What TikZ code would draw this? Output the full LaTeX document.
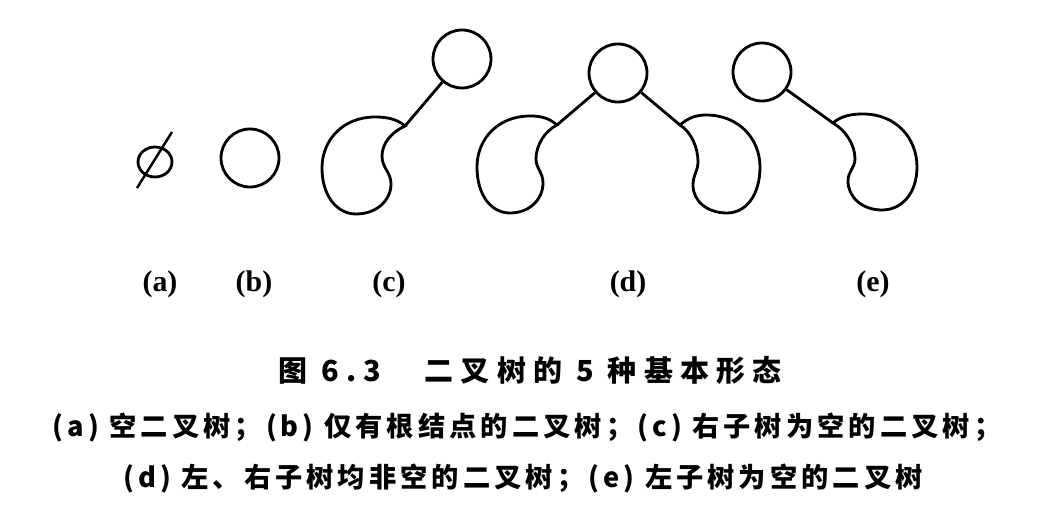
\documentclass[tikz,border=0pt]{standalone}
\usepackage{fontspec}
\newfontfamily\labfont{Liberation Serif}
\newfontfamily\capfont[LetterSpace=25]{Noto Sans CJK SC}
\newfontfamily\notefont[LetterSpace=15]{Noto Sans CJK SC}
\begin{document}
\begin{tikzpicture}[x=0.02cm,y=-0.02cm,
	tree/.style={line width=1.6pt},
	knot/.style={tree,draw,circle,minimum size=1.16cm,inner sep=0pt},
	tag/.style={font=\labfont\bfseries\fontsize{17}{20}\selectfont},
	headline/.style={font=\capfont\bfseries\fontsize{16.5}{20}\selectfont},
	note/.style={font=\notefont\bfseries\fontsize{15.5}{18}\selectfont}]
\useasboundingbox (0,0) rectangle (1063,526);
%tree a
\draw[tree] (155,162) ellipse [x radius=0.34cm, y radius=0.3cm];
\draw[line width=1.4pt] (137,188) -- (172,132);
%tree b
\node[knot] (b-root) at (250,158) {};
%tree c
\node[knot] (c-root) at (462,59) {};
\coordinate (c-left) at (405,126);
\begin{scope}[shift={(405,126)}]
\draw[tree] (0,0) .. controls (-8,-7) and (-18,-9) .. (-30,-9)
	.. controls (-62,-9) and (-83,14) .. (-83,42)
	.. controls (-83,70) and (-68,88) .. (-49,88)
	.. controls (-28,88) and (-14,74) .. (-14,58)
	.. controls (-14,46) and (-23,42) .. (-23,30)
	.. controls (-23,17) and (-13,6) .. cycle;
\end{scope}
\draw[tree] (c-root) -- (c-left);
%tree d
\node[knot] (d-root) at (618,73) {};
\coordinate (d-left) at (557,125);
\coordinate (d-right) at (680,125);
\begin{scope}[shift={(557,125)}]
\draw[tree] (0,0) .. controls (-8,-7) and (-16,-9) .. (-27,-9)
	.. controls (-59,-9) and (-80,14) .. (-80,42)
	.. controls (-80,70) and (-66,88) .. (-47,88)
	.. controls (-27,88) and (-14,74) .. (-14,58)
	.. controls (-14,47) and (-21,44) .. (-21,34)
	.. controls (-21,20) and (-12,6) .. cycle;
\end{scope}
\begin{scope}[shift={(680,125)},xscale=-1]
\draw[tree] (0,0) .. controls (-8,-7) and (-16,-10) .. (-26,-10)
	.. controls (-59,-10) and (-80,14) .. (-80,42)
	.. controls (-80,70) and (-66,88) .. (-47,88)
	.. controls (-27,88) and (-13,76) .. (-13,60)
	.. controls (-13,50) and (-18,46) .. (-18,37)
	.. controls (-18,22) and (-11,7) .. cycle;
\end{scope}
\draw[tree] (d-root) -- (d-left);
\draw[tree] (d-root) -- (d-right);
%tree e
\node[knot] (e-root) at (762,72) {};
\coordinate (e-right) at (833,123);
\begin{scope}[shift={(833,123)},xscale=-1]
\draw[tree] (0,0) .. controls (-8,-7) and (-18,-9) .. (-30,-9)
	.. controls (-63,-9) and (-84,15) .. (-84,44)
	.. controls (-84,70) and (-69,87) .. (-49,87)
	.. controls (-29,87) and (-15,74) .. (-15,58)
	.. controls (-15,48) and (-22,45) .. (-22,36)
	.. controls (-22,21) and (-12,7) .. cycle;
\end{scope}
\draw[tree] (e-root) -- (e-right);
%labels
\node[tag] (lab-a) at (160,284) {(a)};
\node[tag] (lab-b) at (254,284) {(b)};
\node[tag] (lab-c) at (389,284) {(c)};
\node[tag] (lab-d) at (628,284) {(d)};
\node[tag] (lab-e) at (873,284) {(e)};
%caption
\node[headline] (title) at (530,370) {图 6.3　二叉树的 5 种基本形态};
\node[note] (note-a) at (527,428) {(a) 空二叉树；(b) 仅有根结点的二叉树；(c) 右子树为空的二叉树；};
\node[note] (note-b) at (523,479) {(d) 左、右子树均非空的二叉树；(e) 左子树为空的二叉树};
\end{tikzpicture}
\end{document}
